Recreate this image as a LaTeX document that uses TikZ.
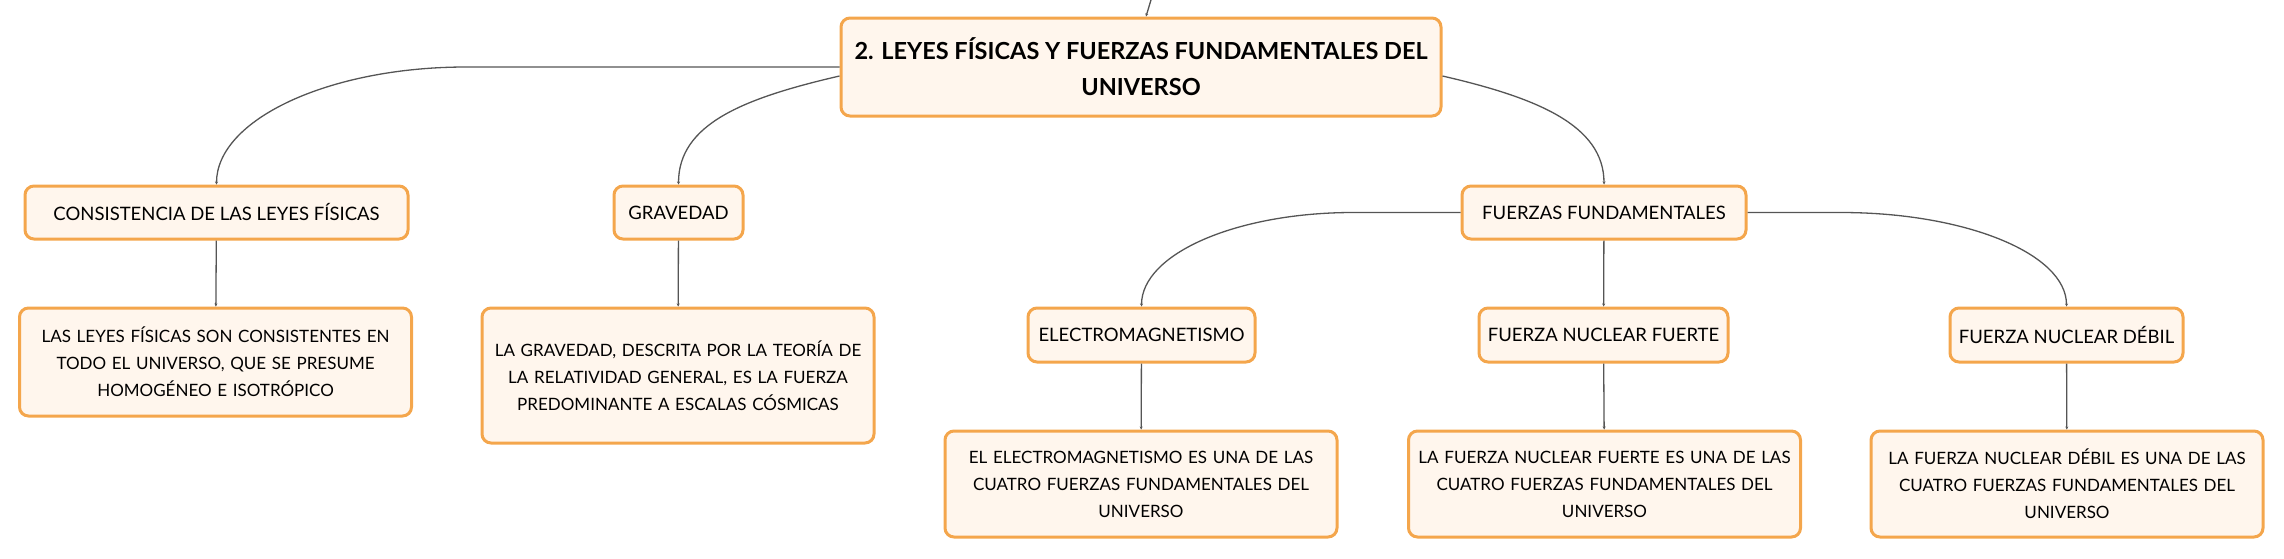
\documentclass[tikz,border=0pt]{standalone}
\usepackage{fontspec}
\setmainfont{Lato}
\usetikzlibrary{arrows.meta}
\definecolor{boxfill}{RGB}{255,246,237}
\definecolor{boxline}{RGB}{244,166,76}
\definecolor{wire}{RGB}{85,85,85}

\begin{document}
\begin{tikzpicture}
[x=1pt,y=-1pt,
box/.style={rectangle,rounded corners=9pt,draw=boxline,fill=boxfill,line width=3pt,align=center,inner sep=0pt},
topic/.style={box,font=\fontsize{23.5}{36}\selectfont\bfseries},
heading/.style={box,minimum height=53pt,font=\fontsize{18.5}{27}\selectfont},
detail/.style={box,text width=380pt,inner xsep=6pt,font=\fontsize{17}{27}\selectfont},
branch/.style={draw=wire,line width=1.3pt,-{Stealth[length=3pt,width=3pt]}}]
\useasboundingbox (0,0) rectangle (2284,558);

\node[topic,minimum width=600pt,minimum height=98pt] (root) at (1141,67)
  {2. LEYES FÍSICAS Y FUERZAS FUNDAMENTALES DEL\\UNIVERSO};
\coordinate (parent) at (1160,-30);

% first level
\node[heading,minimum width=383pt] (cons) at (216.5,212.5) {CONSISTENCIA DE LAS LEYES FÍSICAS};
\node[heading,minimum width=129pt] (grav) at (678.5,212.5) {GRAVEDAD};
\node[heading,minimum width=284pt] (fuerzas) at (1604,212.5) {FUERZAS FUNDAMENTALES};

% forces
\node[heading,minimum width=227pt,minimum height=54pt] (em) at (1141.5,335) {ELECTROMAGNETISMO};
\node[heading,minimum width=249pt,minimum height=54pt] (fnf) at (1603.5,335) {FUERZA NUCLEAR FUERTE};
\node[heading,minimum width=233pt,minimum height=54pt] (fnd) at (2066.5,335) {FUERZA NUCLEAR DÉBIL};

% details
\node[detail,minimum height=108pt] (consdesc) at (215.5,362)
  {LAS LEYES FÍSICAS SON CONSISTENTES EN\\TODO EL UNIVERSO, QUE SE PRESUME\\HOMOGÉNEO E ISOTRÓPICO};
\node[detail,minimum height=135pt] (gravdesc) at (678,375.5)
  {LA GRAVEDAD, DESCRITA POR LA TEORÍA DE\\LA RELATIVIDAD GENERAL, ES LA FUERZA\\PREDOMINANTE A ESCALAS CÓSMICAS};
\node[detail,minimum height=106pt] (emdesc) at (1141,484)
  {EL ELECTROMAGNETISMO ES UNA DE LAS\\CUATRO FUERZAS FUNDAMENTALES DEL\\UNIVERSO};
\node[detail,minimum height=106pt] (fnfdesc) at (1604.5,484)
  {LA FUERZA NUCLEAR FUERTE ES UNA DE LAS\\CUATRO FUERZAS FUNDAMENTALES DEL\\UNIVERSO};
\node[detail,minimum height=106pt] (fnddesc) at (2067,484)
  {LA FUERZA NUCLEAR DÉBIL ES UNA DE LAS\\CUATRO FUERZAS FUNDAMENTALES DEL\\UNIVERSO};

% connectors
\coordinate (bendcons) at (466,67);
\coordinate (bendem) at (1353,212.5);
\coordinate (bendfnd) at (1841,212.5);
\draw[branch] (parent) -- ([xshift=5pt]root.north);
\draw[branch] (root.west) -- (bendcons)
  to[out=180,in=90,out distance=137pt,in distance=65pt] (cons.north);
\draw[branch] ([yshift=-9pt]root.west)
  to[out=193,in=90,out distance=100pt,in distance=60pt] (grav.north);
\draw[branch] ([yshift=-9pt]root.east)
  to[out=-13,in=90,out distance=95pt,in distance=60pt] (fuerzas.north);
\draw[branch] (fuerzas.west) -- (bendem)
  to[out=180,in=90,out distance=116pt,in distance=53pt] (em.north);
\draw[branch] (fuerzas.east) -- (bendfnd)
  to[out=0,in=90,out distance=124pt,in distance=53pt] (fnd.north);
\draw[branch] (fuerzas) -- (fnf);
\draw[branch] (cons) -- (consdesc);
\draw[branch] (grav) -- (gravdesc);
\draw[branch] (em) -- (emdesc);
\draw[branch] (fnf) -- (fnfdesc);
\draw[branch] (fnd) -- (fnddesc);
\end{tikzpicture}
\end{document}
